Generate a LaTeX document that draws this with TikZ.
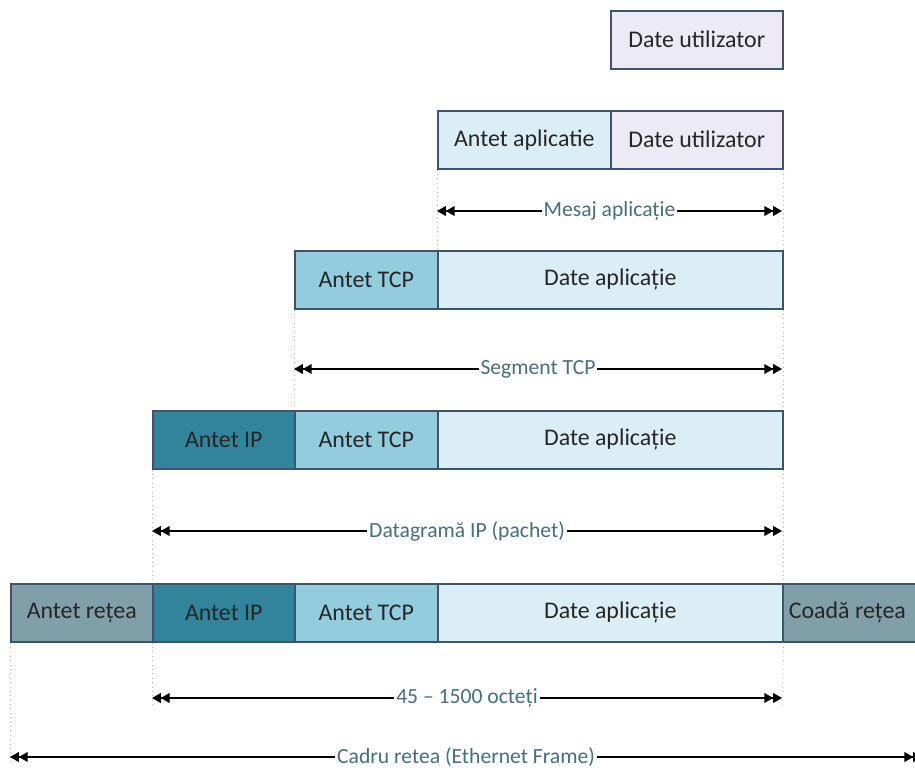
\documentclass[tikz,border=0pt]{standalone}
\usepackage{fontspec}
\setmainfont{Carlito}
\usetikzlibrary{arrows.meta}
\definecolor{userc}{HTML}{ECEAF4}
\definecolor{appc}{HTML}{DCEEF5}
\definecolor{tcpc}{HTML}{93CDDD}
\definecolor{ipc}{HTML}{31849B}
\definecolor{netc}{HTML}{819FA8}
\definecolor{bordc}{HTML}{3C5470}
\definecolor{txtc}{HTML}{262626}
\definecolor{labc}{HTML}{46707F}
\begin{document}
\begin{tikzpicture}[x=0.02cm,y=-0.02cm,
  box/.style={draw=bordc, line width=0.9pt, text=txtc, font=\fontsize{13.6}{16}\selectfont,
    inner sep=0pt, minimum height=1.16cm, anchor=north west},
  wd/.style={minimum width=#1*0.02cm},
  dim/.style={line width=0.8pt,
    {Triangle[length=5pt,width=5.5pt]Triangle[length=5pt,width=5.5pt]}-{Triangle[length=5pt,width=5.5pt]Triangle[length=5pt,width=5.5pt]}},
  lab/.style={fill=white, text=labc, font=\fontsize{12.3}{14}\selectfont, inner sep=1pt},
  guide/.style={draw=gray!60, dotted, line width=0.5pt}]
\useasboundingbox (0,0) rectangle (915,777);
\clip (0,0) rectangle (915,777);
\fill[white] (0,0) rectangle (915,777);

% row 1
\node[box, wd=172, fill=userc] (u1) at (610,10) {Date utilizator};
% row 2
\node[box, wd=173, fill=appc] (a2) at (437,110) {Antet aplicatie};
\node[box, wd=172, fill=userc] (u2) at (610,110) {Date utilizator};
% row 3
\node[box, wd=143, fill=tcpc] (t3) at (294,250) {Antet TCP};
\node[box, wd=345, fill=appc] (d3) at (437,250) {Date aplicație};
% row 4
\node[box, wd=142, fill=ipc] (i4) at (152,410) {Antet IP};
\node[box, wd=143, fill=tcpc] (t4) at (294,410) {Antet TCP};
\node[box, wd=345, fill=appc] (d4) at (437,410) {Date aplicație};
% row 5
\node[box, wd=142, fill=netc] (n5) at (10,583) {Antet rețea};
\node[box, wd=142, fill=ipc] (i5) at (152,583) {Antet IP};
\node[box, wd=143, fill=tcpc] (t5) at (294,583) {Antet TCP};
\node[box, wd=345, fill=appc] (d5) at (437,583) {Date aplicație};
\node[box, wd=170, fill=netc] (c5) at (782,583) {\makebox[3.3cm][l]{\hspace*{2pt}Coadă rețea}};

% guide lines
\draw[guide] (a2.south west) -- (d3.north west);
\draw[guide] (u2.south east) -- (d3.north east);
\draw[guide] (t3.south west) -- (t4.north west);
\draw[guide] (d3.south east) -- (d4.north east);
\draw[guide] (i4.south west) -- (i5.north west);
\draw[guide] (d4.south east) -- (d5.north east);
\coordinate (g1) at (152,705);
\coordinate (g2) at (782,705);
\coordinate (g3) at (10,762);
\draw[guide] (i5.south west) -- (g1);
\draw[guide] (d5.south east) -- (g2);
\draw[guide] (n5.south west) -- (g3);

% dimension arrows
\coordinate (m1) at (437,211);
\coordinate (m2) at (782,211);
\draw[dim] (m1) -- node[lab] {Mesaj aplicație} (m2);
\coordinate (s1) at (294,369);
\coordinate (s2) at (782,369);
\draw[dim] (s1) -- node[lab] {Segment TCP} (s2);
\coordinate (p1) at (152,531);
\coordinate (p2) at (782,531);
\draw[dim] (p1) -- node[lab] {Datagramă IP (pachet)} (p2);
\coordinate (o1) at (152,698);
\coordinate (o2) at (782,698);
\draw[dim] (o1) -- node[lab] {45 – 1500 octeți} (o2);
\coordinate (f1) at (10,757);
\coordinate (f2) at (922,757);
\draw[dim] (f1) -- node[lab, pos=0.5] {Cadru retea (Ethernet Frame)} (f2);
\end{tikzpicture}
\end{document}
